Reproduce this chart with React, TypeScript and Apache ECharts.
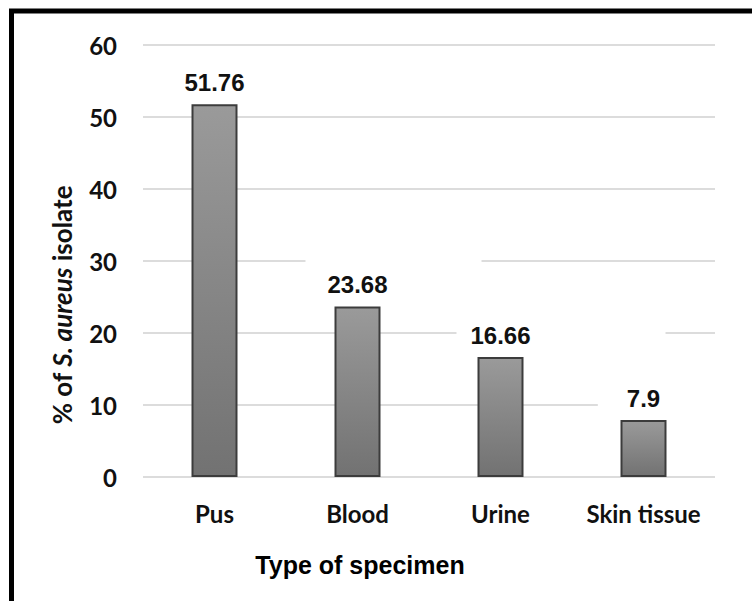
import React, { useEffect, useRef } from "react";
import * as echarts from "echarts";

const categories = ["Pus", "Blood", "Urine", "Skin tissue"];
const values = [51.76, 23.68, 16.66, 7.9];
const yTicks = [0, 10, 20, 30, 40, 50, 60];

// white label boxes [top, right, bottom, left] that break the gridlines as in the picture
const labelPads = [
  [0, 0, 0, 0],
  [14, 94, 0, 22],
  [2, 135, 0, 14],
  [2, 60, 0, 29],
];

export default function App() {
  const ref = useRef<HTMLDivElement>(null);
  useEffect(() => {
    if (!ref.current) return;
    const chart = echarts.init(ref.current, undefined, { renderer: "svg" });
    const tickFont = "Lato";
    chart.setOption({
      animation: false,
      backgroundColor: "#ffffff",
      grid: { left: 143, right: 37, top: 45, bottom: 124 },
      xAxis: {
        type: "category",
        data: categories,
        axisLine: { show: false },
        axisTick: { show: false },
        axisLabel: {
          interval: 0,
          margin: 24,
          fontFamily: tickFont,
          fontWeight: "bold",
          fontSize: 24,
          color: "#111",
        },
        name: "Type of specimen",
        nameLocation: "middle",
        nameGap: 75,
        nameTextStyle: {
          fontFamily: "Liberation Sans, Arial",
          fontWeight: "bold",
          fontSize: 25,
          color: "#000",
          padding: [0, 138, 0, 0],
        },
      },
      yAxis: {
        type: "value",
        min: yTicks[0],
        max: yTicks[yTicks.length - 1],
        interval: 10,
        axisLine: { show: false },
        axisTick: { show: false },
        axisLabel: {
          margin: 26,
          fontFamily: tickFont,
          fontWeight: "bold",
          fontSize: 24,
          color: "#111",
        },
        splitLine: { lineStyle: { color: "#dcdcdc", width: 2 } },
      },
      series: [
        {
          type: "bar",
          barWidth: 46,
          data: values.map((v, i) => {
            const p = labelPads[i];
            return {
              value: v,
              label: {
                padding: p,
                offset: [(p[1] - p[3]) / 2, 0],
              },
            };
          }),
          itemStyle: {
            color: new echarts.graphic.LinearGradient(0, 0, 0, 1, [
              { offset: 0, color: "#9a9a9a" },
              { offset: 1, color: "#727272" },
            ]),
            borderColor: "#3c3c3c",
            borderWidth: 2,
          },
          label: {
            show: true,
            position: "top",
            distance: 10,
            fontFamily: "Liberation Sans, Arial",
            fontWeight: "bold",
            fontSize: 24,
            lineHeight: 24,
            color: "#111",
            backgroundColor: "#ffffff",
            formatter: (p: any) => String(p.value),
          },
        },
      ],
      graphic: [
        {
          type: "rect",
          shape: { x: 11.5, y: 11, width: 800, height: 700 },
          style: { fill: "none", stroke: "#000", lineWidth: 5 },
          silent: true,
        },
        {
          type: "text",
          x: 62,
          y: 305,
          rotation: Math.PI / 2,
          style: {
            text: "{n|% of }{i|S. aureus}{n| isolate}",
            align: "center",
            verticalAlign: "middle",
            rich: {
              n: { fontFamily: "Lato", fontWeight: "bold", fontSize: 26, fill: "#111" },
              i: {
                fontFamily: "Lato",
                fontWeight: "bold",
                fontStyle: "italic",
                fontSize: 26,
                fill: "#111",
              },
            },
          },
        },
      ],
    });
    return () => chart.dispose();
  }, []);
  return (
    <div
      ref={ref}
      style={{ position: "absolute", left: 0, top: 0, width: 752, height: 601 }}
    />
  );
}
